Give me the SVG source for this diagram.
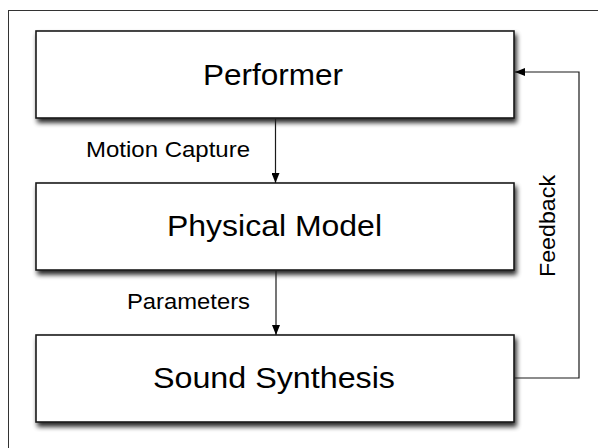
<svg xmlns="http://www.w3.org/2000/svg" width="598" height="448" viewBox="0 0 598 448">
<defs>
<filter id="sh" x="-10%" y="-20%" width="120%" height="150%">
<feGaussianBlur in="SourceAlpha" stdDeviation="2.5"/>
<feOffset dx="2" dy="4" result="b"/>
<feComponentTransfer><feFuncA type="linear" slope="0.85"/></feComponentTransfer>
<feMerge><feMergeNode/><feMergeNode in="SourceGraphic"/></feMerge>
</filter>
<marker id="ah" markerWidth="10" markerHeight="8" refX="10" refY="4" orient="auto" markerUnits="userSpaceOnUse">
<path d="M0,0 L10,4 L0,8 Z" fill="#000"/>
</marker>
</defs>
<style>
.box{fill:#fff;stroke:#1a1a1a;stroke-width:1.6}
.big{font-family:"Liberation Sans",Arial,sans-serif;font-size:30px;fill:#000}
.lbl{font-family:"Liberation Sans",Arial,sans-serif;font-size:22.5px;fill:#000}
.con{fill:none;stroke:#1a1a1a;stroke-width:1.2}
</style>
<rect width="598" height="448" fill="#fff"/>
<rect x="8.5" y="10.5" width="600" height="450" fill="none" stroke="#333" stroke-width="1"/>
<g id="performer">
<rect class="box" x="36" y="31" width="478" height="87" filter="url(#sh)"/>
<text class="big" x="203" y="85" textLength="140" lengthAdjust="spacingAndGlyphs">Performer</text>
</g>
<g id="physical-model">
<rect class="box" x="36" y="183" width="478" height="87" filter="url(#sh)"/>
<text class="big" x="167" y="236" textLength="215" lengthAdjust="spacingAndGlyphs">Physical Model</text>
</g>
<g id="sound-synthesis">
<rect class="box" x="36" y="335" width="478" height="87" filter="url(#sh)"/>
<text class="big" x="153" y="388" textLength="242" lengthAdjust="spacingAndGlyphs">Sound Synthesis</text>
</g>
<g id="connectors">
<path class="con" d="M275.5,118.8 V183" marker-end="url(#ah)"/>
<path class="con" d="M276,270.8 V335" marker-end="url(#ah)"/>
<path class="con" d="M514.8,378 H579 V72 H515" marker-end="url(#ah)"/>
<text class="lbl" x="86" y="157" textLength="164" lengthAdjust="spacingAndGlyphs">Motion Capture</text>
<text class="lbl" x="127" y="309" textLength="123" lengthAdjust="spacingAndGlyphs">Parameters</text>
<text class="lbl" transform="translate(555,277) rotate(-90)" x="0" y="0" textLength="102" lengthAdjust="spacingAndGlyphs">Feedback</text>
</g>
</svg>
